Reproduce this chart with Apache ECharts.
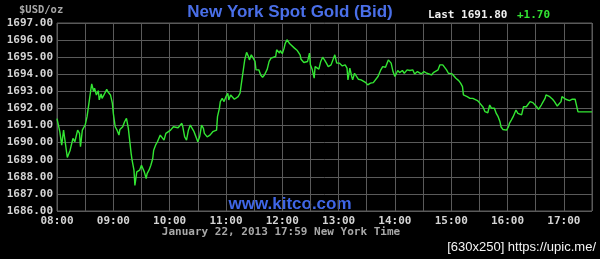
<!DOCTYPE html>
<html>
<head>
<meta charset="utf-8">
<script src="https://cdn.jsdelivr.net/npm/echarts@6/dist/echarts.min.js"></script>
<style>
html,body{margin:0;padding:0;background:#000;}
#c{width:600px;height:259px;}
</style>
</head>
<body>
<div id="c"></div>
<script>
// minutes after 08:00 (New York time)
const minutes = [0,3,5,7,9,11,14,17,19,22,24,25,27,30,32,34,36,37,39,40,42,44,45,47,48,50,53,54,56,57,59,60,62,64,66,67,69,70,72,74,75,76,79,80,82,83,85,86,88,90,92,93,95,96,98,100,102,103,105,107,109,110,112,114,116,118,121,124,125,129,133,134,136,138,140,142,144,146,148,150,152,154,156,157,160,163,166,168,170,171,173,174,176,178,180,182,183,185,187,189,190,193,195,196,198,200,202,204,205,207,209,211,212,213,215,217,219,221,224,226,228,230,233,234,237,238,240,242,243,245,248,250,253,256,259,260,263,265,267,269,270,272,274,275,277,279,281,283,285,287,289,292,294,296,298,299,301,304,307,309,310,312,314,315,317,319,321,324,326,329,331,334,337,339,342,345,347,350,353,354,356,358,360,362,363,365,368,370,373,376,379,381,384,386,388,391,394,396,399,401,403,406,408,410,411,413,415,417,418,421,423,425,428,430,432,433,435,437,439,440,443,445,448,450,452,454,456,457,459,461,463,465,466,468,470,472,473,475,477,479,481,482,484,486,488,489,491,493,495,497,498,500,502,504,505,507,509,511,513,514,516,518,520,521,523,525,526,528,530,531,533,535,537,538,540,542,543,546,549,552,553,555,557,570];
const bidPrices = [1691.40,1690.64,1689.85,1690.73,1690.83,1689.13,1689.56,1690.25,1690.05,1690.73,1690.54,1689.76,1690.73,1691.03,1691.52,1692.30,1693.08,1693.44,1692.99,1693.18,1692.79,1693.04,1692.50,1692.85,1692.59,1692.79,1693.12,1692.99,1693.08,1692.79,1692.30,1691.71,1690.93,1690.73,1690.44,1690.77,1690.70,1690.93,1691.22,1691.42,1691.13,1690.83,1689.36,1688.97,1688.39,1687.50,1688.29,1688.19,1688.39,1688.68,1688.78,1688.29,1687.90,1688.19,1688.39,1688.68,1689.07,1689.56,1689.85,1690.05,1689.95,1690.44,1690.34,1690.15,1690.54,1690.44,1690.73,1690.93,1690.83,1690.87,1691.13,1690.93,1690.34,1690.15,1690.73,1691.03,1690.93,1690.64,1690.34,1690.05,1690.34,1691.03,1690.83,1690.54,1690.34,1690.44,1690.64,1690.73,1690.73,1691.52,1692.01,1692.40,1692.59,1692.40,1692.69,1692.89,1692.50,1692.79,1692.73,1692.54,1692.50,1692.69,1692.89,1693.28,1694.06,1694.84,1695.28,1695.04,1694.84,1695.14,1695.24,1694.75,1694.26,1694.16,1694.26,1693.96,1693.83,1693.96,1694.30,1694.75,1694.94,1694.84,1695.04,1695.43,1695.24,1695.39,1695.20,1695.53,1695.78,1696.02,1695.78,1695.73,1695.53,1695.39,1695.14,1694.88,1694.69,1694.65,1694.75,1695.24,1694.55,1694.26,1693.77,1694.45,1694.55,1694.30,1694.75,1695.00,1694.84,1694.65,1694.45,1694.55,1694.65,1695.14,1694.65,1694.55,1694.65,1694.49,1694.55,1694.36,1693.67,1694.36,1693.87,1693.67,1694.06,1694.16,1693.71,1693.67,1693.57,1693.51,1693.38,1693.48,1693.51,1693.57,1693.87,1694.26,1694.45,1694.41,1694.84,1694.94,1694.65,1694.16,1693.87,1694.10,1694.22,1694.10,1694.22,1694.06,1694.26,1694.22,1694.26,1694.02,1694.16,1694.22,1694.02,1694.16,1694.06,1694.10,1693.96,1694.10,1694.16,1694.26,1694.55,1694.65,1694.55,1694.61,1694.26,1694.06,1694.10,1694.02,1693.91,1693.77,1693.63,1693.48,1693.28,1692.79,1692.89,1692.69,1692.79,1692.59,1692.59,1692.50,1692.46,1692.34,1692.30,1692.07,1691.81,1691.71,1691.75,1692.20,1692.01,1692.10,1692.01,1691.71,1691.52,1691.22,1690.93,1690.77,1690.83,1690.73,1690.93,1691.13,1691.32,1691.52,1691.62,1691.91,1691.71,1691.81,1691.62,1692.10,1692.20,1692.10,1692.14,1692.40,1692.46,1692.34,1692.30,1692.10,1691.95,1692.01,1692.20,1692.40,1692.59,1692.79,1692.85,1692.69,1692.79,1692.54,1692.40,1692.30,1692.14,1692.20,1692.40,1692.69,1692.79,1692.54,1692.46,1692.46,1692.54,1692.54,1692.30,1691.81,1691.80,1691.80];
const xTickLabels = ['08:00','09:00','10:00','11:00','12:00','13:00','14:00','15:00','16:00','17:00'];
const yTickValues = [1686,1687,1688,1689,1690,1691,1692,1693,1694,1695,1696,1697];

const chartTitle = 'New York Spot Gold (Bid)';
const lastText = 'Last 1691.80';
const changeText = '+1.70';
const unitText = '$USD/oz';
const dateText = 'January 22, 2013 17:59 New York Time';
const siteText = 'www.kitco.com';
const stampText = '[630x250] https://upic.me/';

const points = minutes.map((m, i) => [m, bidPrices[i]]);
const mono = 'DejaVu Sans Mono';
const gridColor = '#5a5a5a';

const chart = echarts.init(document.getElementById('c'), null, {renderer: 'canvas'});
chart.setOption({
  backgroundColor: '#000',
  animation: false,
  grid: {left: 57, right: 8, top: 23, bottom: 48, show: true, borderColor: gridColor, borderWidth: 1, backgroundColor: '#000'},
  xAxis: {
    type: 'value', min: 0, max: 570, interval: 30,
    axisLine: {show: false}, axisTick: {show: false},
    splitLine: {show: true, lineStyle: {color: gridColor, width: 1}},
    axisLabel: {
      color: '#d4d4d4', fontFamily: mono, fontWeight: 'bold', fontSize: 11, margin: 5,
      formatter: v => (v % 60 === 0 ? xTickLabels[v / 60] : '')
    }
  },
  yAxis: {
    type: 'value', min: yTickValues[0], max: yTickValues[yTickValues.length - 1], interval: 1,
    axisLine: {show: false}, axisTick: {show: false},
    splitLine: {show: true, lineStyle: {color: gridColor, width: 1}},
    axisLabel: {color: '#d4d4d4', fontFamily: mono, fontWeight: 'bold', fontSize: 11, margin: 4,
      formatter: v => v.toFixed(2)}
  },
  series: [{
    type: 'line', data: points, showSymbol: false, symbol: 'none',
    lineStyle: {color: '#33e633', width: 1.4}
  }],
  graphic: [
    {type: 'text', left: 19, top: 5, style: {text: unitText, fill: '#a8a8a8', font: 'bold 10.5px ' + mono}},
    {type: 'text', x: 290, y: 12, style: {text: chartTitle, fill: '#4a6fe8', font: 'bold 17px "Liberation Sans"', align: 'center', verticalAlign: 'middle'}},
    {type: 'text', x: 428, y: 15, style: {text: lastText, fill: '#f0f0f0', font: 'bold 11px ' + mono, verticalAlign: 'middle'}},
    {type: 'text', x: 517, y: 15, style: {text: changeText, fill: '#33e633', font: 'bold 11px ' + mono, verticalAlign: 'middle'}},
    {type: 'text', x: 290, y: 204, style: {text: siteText, fill: '#3f66e6', font: 'bold 17px "Liberation Sans"', align: 'center', verticalAlign: 'middle'}},
    {type: 'text', x: 281, y: 232, style: {text: dateText, fill: '#a8a8a8', font: 'bold 11px ' + mono, align: 'center', verticalAlign: 'middle'}},
    {type: 'text', x: 596, y: 247, style: {text: stampText, fill: '#f4f4f4', font: '13px "Liberation Sans Narrow", "Liberation Sans"', align: 'right', verticalAlign: 'middle'}}
  ]
});
</script>
</body>
</html>
